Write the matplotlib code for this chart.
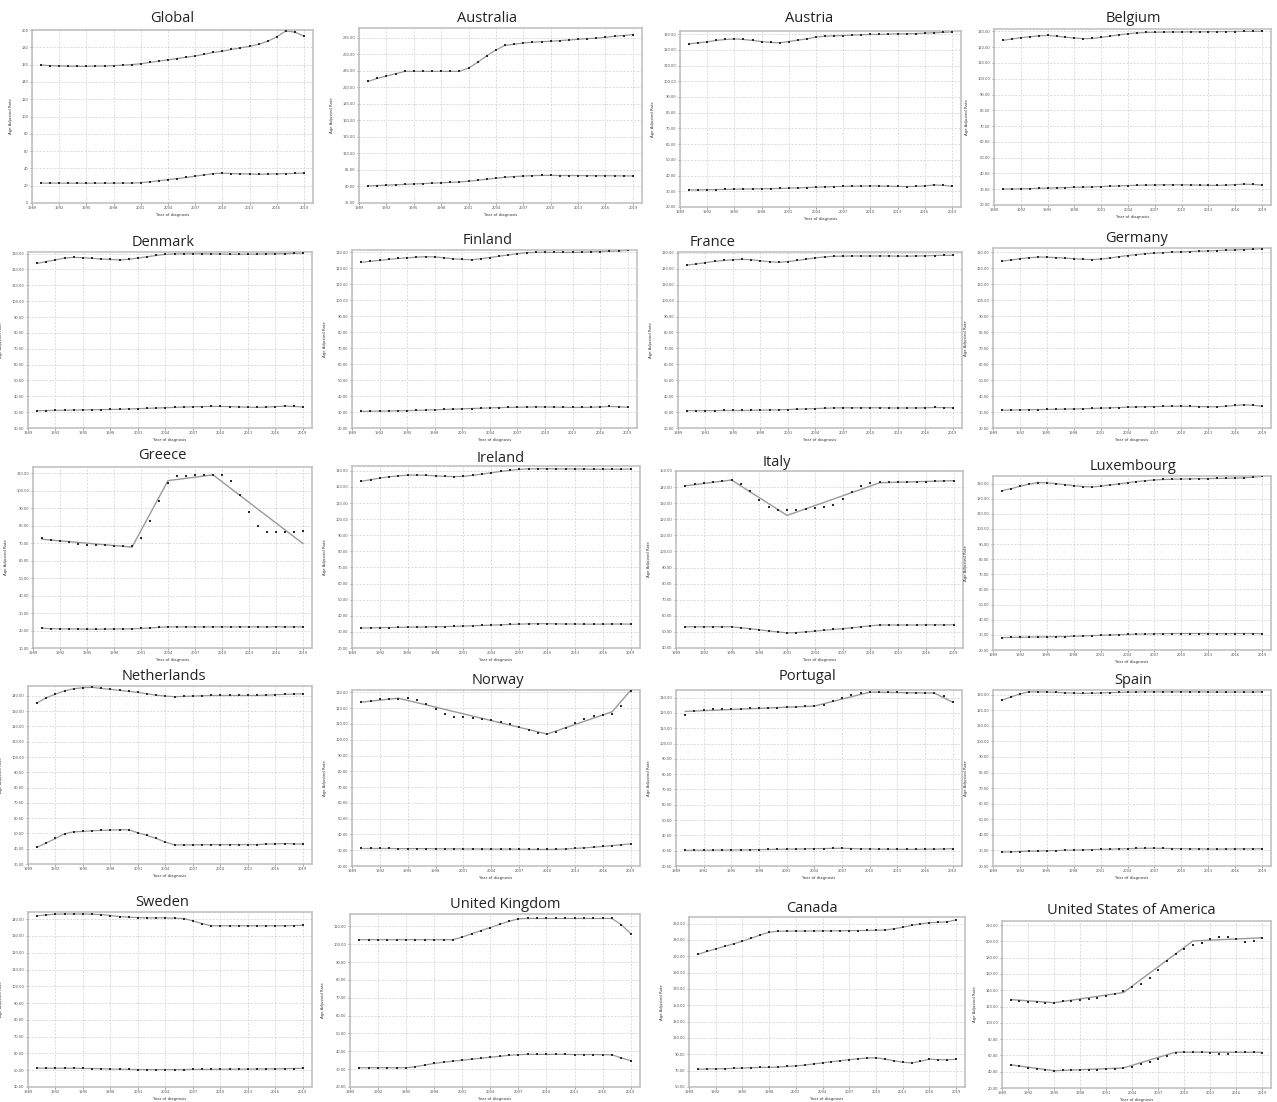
import matplotlib
matplotlib.use("Agg")
import matplotlib.pyplot as plt
from matplotlib.ticker import FormatStrFormatter

# ---------------- data ----------------
years = list(range(1990, 2020))
x_ticks = [1989, 1992, 1995, 1998, 2001, 2004, 2007, 2010, 2013, 2016, 2019]

global_upper = [159.5, 158.8, 158.5, 158.2, 158.0, 158.0, 158.2, 158.4, 158.8, 159.3, 160.0, 161.0, 162.5, 164.0, 165.5,
                167.0, 168.5, 170.0, 172.0, 174.0, 175.5, 177.5, 179.5, 181.0, 183.5, 187.0, 192.0, 199.0, 197.5, 193.0]
global_lower = [23.0, 23.0, 23.0, 22.9, 22.9, 22.9, 22.9, 22.9, 23.0, 23.0, 23.1, 23.5, 24.5, 25.8, 27.0,
                28.2, 29.5, 31.0, 32.5, 34.0, 34.5, 34.0, 33.8, 33.5, 33.2, 33.4, 33.8, 34.0, 34.2, 34.6]

australia_upper = [219.1, 223.7, 227.2, 230.7, 234.3, 234.3, 234.3, 234.3, 234.3, 234.3, 234.3, 239.3, 248.0, 258.1, 266.7,
                   273.8, 275.3, 277.4, 278.4, 279.4, 279.9, 280.9, 281.9, 282.9, 284.0, 284.5, 286.0, 287.5, 288.6, 290.1]
australia_lower = [60.9, 61.5, 62.0, 62.6, 63.2, 63.8, 64.4, 65.0, 65.6, 66.2, 66.8, 68.0, 69.5, 71.0, 72.5,
                   74.0, 75.0, 75.8, 76.5, 76.8, 76.8, 76.6, 76.6, 76.5, 76.4, 76.3, 76.3, 76.2, 76.1, 76.0]

austria_upper = [123.8, 124.5, 125.1, 126.0, 126.6, 127.0, 126.6, 126.0, 125.3, 124.7, 124.5, 125.3, 126.2, 127.0, 128.1,
                 128.7, 128.9, 129.1, 129.4, 129.6, 129.8, 129.8, 130.0, 130.2, 130.2, 130.4, 130.6, 130.9, 131.1, 131.5]
austria_lower = [30.9, 30.9, 31.0, 31.1, 31.2, 31.3, 31.4, 31.5, 31.6, 31.7, 31.8, 32.0, 32.2, 32.4, 32.6,
                 32.8, 33.0, 33.1, 33.2, 33.3, 33.4, 33.3, 33.2, 33.1, 33.0, 33.1, 33.4, 34.0, 33.8, 33.2]

belgium_upper = [124.3, 125.2, 126.0, 126.6, 127.2, 127.4, 127.0, 126.3, 125.8, 125.4, 125.5, 126.2, 127.0, 127.8, 128.5,
                 129.0, 129.3, 129.4, 129.5, 129.6, 129.6, 129.7, 129.7, 129.8, 129.8, 129.9, 129.9, 130.0, 130.0, 130.1]
belgium_lower = [30.0, 30.1, 30.3, 30.4, 30.6, 30.7, 30.9, 31.0, 31.2, 31.3, 31.5, 31.7, 31.9, 32.1, 32.3,
                 32.5, 32.6, 32.7, 32.8, 32.8, 32.8, 32.7, 32.6, 32.5, 32.4, 32.6, 32.9, 33.2, 33.0, 32.6]

denmark_upper = [123.8, 125.0, 126.0, 127.2, 127.6, 127.4, 127.0, 126.6, 126.3, 126.0, 126.4, 127.2, 128.0, 128.8, 129.5,
                 129.8, 129.9, 129.9, 129.9, 129.8, 129.7, 129.6, 129.6, 129.6, 129.7, 129.8, 129.9, 130.0, 130.1, 130.3]
denmark_lower = [30.9, 31.0, 31.1, 31.2, 31.3, 31.4, 31.5, 31.6, 31.7, 31.8, 32.0, 32.2, 32.4, 32.6, 32.8,
                 33.0, 33.2, 33.4, 33.5, 33.6, 33.6, 33.5, 33.3, 33.1, 33.0, 33.2, 33.5, 33.8, 33.6, 33.3]

finland_upper = [123.8, 124.4, 125.0, 125.6, 126.2, 126.6, 127.0, 127.3, 127.2, 126.6, 126.0, 125.6, 125.4, 126.0, 126.8,
                 127.6, 128.4, 129.2, 129.8, 130.0, 130.1, 130.0, 130.0, 130.0, 130.1, 130.3, 130.5, 130.7, 130.9, 131.2]
finland_lower = [30.4, 30.5, 30.6, 30.7, 30.8, 30.9, 31.0, 31.2, 31.4, 31.6, 31.8, 32.0, 32.2, 32.4, 32.6,
                 32.8, 32.9, 33.0, 33.1, 33.2, 33.2, 33.1, 33.0, 32.9, 32.9, 33.0, 33.2, 33.5, 33.3, 33.0]

france_upper = [122.3, 123.0, 123.8, 124.6, 125.2, 125.6, 125.9, 125.6, 125.0, 124.4, 124.0, 124.5, 125.2, 126.0, 126.8,
                127.4, 127.8, 127.9, 128.0, 128.0, 128.0, 128.0, 128.0, 127.9, 127.9, 128.0, 128.1, 128.3, 128.4, 128.4]
france_lower = [30.9, 30.9, 30.9, 30.9, 31.0, 31.0, 31.0, 31.1, 31.2, 31.3, 31.4, 31.6, 31.8, 32.0, 32.2,
                32.4, 32.6, 32.7, 32.7, 32.7, 32.7, 32.7, 32.6, 32.6, 32.6, 32.6, 32.7, 32.9, 32.8, 32.7]

germany_upper = [124.3, 125.0, 125.8, 126.4, 126.8, 126.8, 126.5, 126.2, 125.8, 125.4, 125.3, 125.6, 126.2, 127.0, 127.8,
                 128.4, 128.9, 129.3, 129.6, 129.9, 130.1, 130.3, 130.5, 130.7, 130.9, 131.1, 131.3, 131.5, 131.8, 132.1]
germany_lower = [31.1, 31.2, 31.3, 31.4, 31.5, 31.6, 31.7, 31.8, 31.9, 32.0, 32.2, 32.4, 32.6, 32.8, 33.0,
                 33.2, 33.3, 33.4, 33.5, 33.6, 33.6, 33.5, 33.4, 33.3, 33.3, 33.6, 34.1, 34.5, 34.2, 33.6]

greece_upper = [73.1, 72.1, 71.3, 70.5, 69.8, 69.2, 69.0, 68.8, 68.6, 68.6, 68.6, 73.3, 82.7, 94.2, 104.3,
                108.4, 108.8, 109.2, 109.0, 109.2, 109.2, 105.5, 97.7, 87.9, 80.1, 76.4, 76.2, 76.2, 76.2, 76.8]
greece_upper_fit_x = [1990, 2000, 2004, 2009, 2019]
greece_upper_fit_y = [72.3, 67.8, 105.9, 109.2, 69.8]
greece_lower = [21.3, 21.1, 21.0, 20.9, 20.9, 20.8, 20.8, 20.8, 20.9, 20.9, 21.0, 21.2, 21.5, 21.8, 22.1,
                22.1, 22.1, 22.1, 22.1, 22.1, 22.1, 22.1, 22.1, 22.1, 22.1, 22.1, 22.2, 22.1, 22.1, 22.1]

ireland_upper = [123.5, 124.5, 125.5, 126.3, 126.9, 127.3, 127.4, 127.2, 126.9, 126.6, 126.4, 126.6, 127.2, 128.0, 128.8,
                 129.6, 130.3, 130.9, 131.2, 131.3, 131.3, 131.2, 131.2, 131.1, 131.1, 131.0, 131.0, 131.0, 131.0, 131.1]
ireland_lower = [32.4, 32.5, 32.6, 32.7, 32.8, 32.9, 33.0, 33.1, 33.2, 33.3, 33.4, 33.6, 33.8, 34.0, 34.2,
                 34.4, 34.6, 34.8, 35.0, 35.1, 35.1, 35.0, 34.9, 34.9, 34.8, 34.8, 34.8, 34.9, 34.9, 34.8]

italy_upper = [140.8, 141.9, 142.7, 143.4, 143.8, 144.2, 141.7, 137.5, 132.2, 127.6, 125.5, 126.0, 126.0, 126.4, 127.0,
               127.4, 129.1, 132.9, 137.1, 140.8, 142.5, 142.9, 142.9, 142.9, 142.9, 143.1, 143.3, 143.6, 143.8, 144.0]
italy_upper_fit_x = [1990, 1995, 2001, 2011, 2019]
italy_upper_fit_y = [140.8, 144.4, 122.4, 142.7, 144.0]
italy_lower = [53.2, 53.2, 53.2, 53.2, 53.2, 53.2, 52.6, 52.0, 51.3, 50.6, 50.0, 49.4, 49.6, 50.0, 50.5,
               51.0, 51.5, 52.0, 52.6, 53.2, 53.8, 54.3, 54.3, 54.3, 54.3, 54.3, 54.4, 54.4, 54.4, 54.4]

luxembourg_upper = [125.3, 126.6, 128.2, 129.6, 130.7, 130.5, 130.0, 129.3, 128.6, 128.0, 127.8, 128.2, 129.0, 129.8, 130.6,
                    131.3, 131.9, 132.4, 132.7, 132.9, 133.0, 133.1, 133.2, 133.3, 133.4, 133.5, 133.6, 133.8, 134.2, 134.7]
luxembourg_lower = [28.2, 28.3, 28.4, 28.5, 28.6, 28.7, 28.8, 28.9, 29.1, 29.3, 29.5, 29.7, 29.9, 30.1, 30.3,
                    30.5, 30.6, 30.7, 30.8, 30.9, 30.9, 30.9, 30.9, 30.9, 30.8, 30.8, 30.9, 30.9, 30.9, 30.8]

netherlands_upper = [135.5, 138.8, 141.2, 143.4, 144.7, 145.4, 145.6, 144.9, 144.3, 143.6, 143.0, 142.3, 141.4, 140.5, 139.9,
                     139.5, 139.7, 139.9, 140.1, 140.3, 140.3, 140.3, 140.3, 140.3, 140.3, 140.5, 140.8, 141.0, 141.2, 141.4]
netherlands_lower = [41.0, 43.8, 46.7, 49.8, 51.1, 51.3, 51.8, 52.0, 52.2, 52.4, 52.4, 50.4, 48.7, 46.7, 44.3,
                     42.5, 42.5, 42.5, 42.7, 42.7, 42.7, 42.7, 42.7, 42.7, 42.7, 43.0, 43.2, 43.4, 43.2, 43.0]

norway_upper = [124.0, 124.8, 125.7, 125.9, 126.1, 126.3, 125.3, 122.5, 119.4, 116.6, 114.5, 114.1, 113.7, 112.9, 112.2,
                111.4, 109.9, 108.2, 105.9, 104.5, 103.6, 104.7, 107.2, 110.3, 113.3, 115.0, 115.6, 116.6, 121.3, 130.9]
norway_upper_fit_x = [1990, 1994, 2010, 2017, 2019]
norway_upper_fit_y = [123.8, 126.3, 103.6, 117.7, 131.3]
norway_lower = [31.1, 31.1, 31.1, 31.1, 31.0, 31.0, 31.0, 31.0, 30.9, 30.9, 30.9, 30.8, 30.8, 30.8, 30.7,
                30.7, 30.7, 30.6, 30.6, 30.5, 30.5, 30.6, 30.8, 31.1, 31.5, 31.9, 32.4, 32.9, 33.5, 34.1]

portugal_upper = [118.5, 121.5, 122.0, 122.3, 122.5, 122.7, 122.8, 123.0, 123.2, 123.3, 123.5, 123.7, 124.0, 124.3, 124.5,
                  125.5, 127.5, 129.5, 131.5, 133.0, 133.5, 133.6, 133.5, 133.4, 133.3, 133.2, 133.1, 132.8, 131.0, 127.0]
portugal_upper_fit_x = [1990, 2004, 2010, 2017, 2019]
portugal_upper_fit_y = [121.0, 124.5, 133.6, 133.0, 127.0]
portugal_lower = [30.2, 30.3, 30.3, 30.4, 30.4, 30.5, 30.5, 30.6, 30.7, 30.8, 30.9, 31.0, 31.1, 31.2, 31.3,
                  31.4, 31.5, 31.6, 31.4, 31.2, 31.1, 31.0, 31.0, 30.9, 30.9, 30.9, 31.0, 31.0, 31.1, 31.3]

spain_upper = [126.5, 128.5, 130.5, 131.8, 131.8, 131.7, 131.5, 131.2, 131.0, 130.8, 130.9, 131.1, 131.3, 131.5, 131.6,
               131.7, 131.8, 131.8, 131.8, 131.8, 131.8, 131.8, 131.8, 131.7, 131.7, 131.7, 131.7, 131.7, 131.7, 131.8]
spain_lower = [29.0, 29.1, 29.3, 29.5, 29.6, 29.8, 29.9, 30.1, 30.2, 30.4, 30.5, 30.7, 30.8, 31.0, 31.1,
               31.3, 31.4, 31.4, 31.3, 31.2, 31.1, 31.0, 31.0, 30.9, 30.9, 30.9, 31.0, 31.0, 31.0, 31.1]

sweden_upper = [142.0, 142.6, 143.0, 143.1, 143.1, 143.1, 143.0, 142.8, 142.2, 141.6, 141.2, 141.0, 140.8, 140.8, 140.8,
                140.6, 140.4, 139.0, 137.4, 136.1, 136.1, 136.1, 136.1, 136.1, 136.1, 136.1, 136.1, 136.1, 136.2, 136.4]
sweden_lower = [51.2, 51.2, 51.2, 51.2, 51.2, 51.1, 51.0, 50.9, 50.7, 50.6, 50.5, 50.4, 50.4, 50.4, 50.4,
                50.4, 50.4, 50.5, 50.5, 50.5, 50.6, 50.6, 50.6, 50.7, 50.7, 50.8, 50.8, 50.9, 51.0, 51.2]

uk_upper = [102.6, 102.6, 102.6, 102.6, 102.6, 102.6, 102.6, 102.6, 102.6, 102.6, 102.6, 104.1, 105.9, 107.7, 109.4,
            111.2, 112.9, 114.3, 114.5, 114.5, 114.5, 114.5, 114.5, 114.5, 114.5, 114.5, 114.5, 114.5, 111.0, 106.0]
uk_lower = [30.8, 30.8, 30.8, 30.8, 30.8, 30.8, 31.4, 32.3, 33.2, 33.9, 34.5, 35.0, 35.6, 36.1, 36.7,
            37.2, 37.8, 38.1, 38.3, 38.3, 38.3, 38.3, 38.3, 38.2, 38.2, 38.2, 38.1, 38.1, 36.3, 34.8]

canada_upper = [212.3, 215.8, 218.9, 222.1, 225.2, 228.4, 232.0, 236.0, 239.4, 240.6, 240.7, 240.8, 240.9, 241.0, 241.0,
                241.1, 241.2, 241.3, 241.4, 241.5, 241.8, 242.1, 243.5, 245.5, 247.8, 249.6, 251.0, 251.5, 252.0, 254.5]
canada_lower = [71.6, 72.0, 72.4, 72.4, 72.8, 73.2, 73.6, 74.0, 74.0, 74.4, 75.1, 75.9, 76.7, 78.3, 79.5,
                81.0, 82.2, 83.4, 84.6, 85.4, 85.8, 84.2, 82.2, 80.3, 79.5, 81.4, 84.2, 83.4, 83.4, 83.8]

usa_upper = [128.2, 127.0, 125.8, 125.1, 124.7, 124.7, 126.3, 127.0, 127.8, 129.4, 130.9, 132.5, 135.2, 139.1, 143.4,
             148.1, 154.8, 164.5, 175.5, 184.8, 190.7, 195.0, 198.5, 202.4, 204.8, 205.9, 202.8, 199.7, 200.9, 204.4]
usa_upper_fit_x = [1990, 1995, 2003, 2011, 2019]
usa_upper_fit_y = [128.6, 124.7, 137.2, 200.5, 204.4]
usa_lower = [48.1, 46.6, 44.6, 43.0, 41.9, 41.1, 41.5, 41.9, 42.3, 42.3, 42.7, 43.0, 43.8, 44.6, 46.2,
             48.9, 52.0, 55.9, 59.5, 63.0, 64.5, 64.1, 63.8, 63.0, 61.8, 61.4, 63.8, 64.1, 63.8, 63.4]
usa_lower_fit_x = [1990, 1995, 2003, 2009, 2019]
usa_lower_fit_y = [48.5, 41.2, 44.6, 64.0, 63.8]

# name, upper obs, upper fit, lower obs, lower fit, y axis (min, step, n_intervals, top), tick format
panels = [
    ("Global", global_upper, None, global_lower, None, (0, 20, 10, 200), "%d"),
    ("Australia", australia_upper, None, australia_lower, None, (35, 25, 10, 300), "%.2f"),
    ("Austria", austria_upper, None, austria_lower, None, (20, 10, 11, 132), "%.2f"),
    ("Belgium", belgium_upper, None, belgium_lower, None, (20, 10, 11, 131.5), "%.2f"),
    ("Denmark", denmark_upper, None, denmark_lower, None, (20, 10, 11, 131), "%.2f"),
    ("Finland", finland_upper, None, finland_lower, None, (20, 10, 11, 131.5), "%.2f"),
    ("France", france_upper, None, france_lower, None, (20, 10, 11, 130.5), "%.2f"),
    ("Germany", germany_upper, None, germany_lower, None, (20, 10, 11, 132.5), "%.2f"),
    ("Greece", greece_upper, (greece_upper_fit_x, greece_upper_fit_y), greece_lower, None, (10, 10, 10, 113.7), "%.2f"),
    ("Ireland", ireland_upper, None, ireland_lower, None, (20, 10, 11, 133), "%.2f"),
    ("Italy", italy_upper, (italy_upper_fit_x, italy_upper_fit_y), italy_lower, None, (40, 10, 11, 150), "%.2f"),
    ("Luxembourg", luxembourg_upper, None, luxembourg_lower, None, (20, 10, 11, 135), "%.2f"),
    ("Netherlands", netherlands_upper, None, netherlands_lower, None, (30, 10, 11, 146.5), "%.2f"),
    ("Norway", norway_upper, (norway_upper_fit_x, norway_upper_fit_y), norway_lower, None, (20, 10, 11, 131.5), "%.2f"),
    ("Portugal", portugal_upper, (portugal_upper_fit_x, portugal_upper_fit_y), portugal_lower, None, (20, 10, 11, 135), "%.2f"),
    ("Spain", spain_upper, None, spain_lower, None, (20, 10, 11, 133), "%.2f"),
    ("Sweden", sweden_upper, None, sweden_lower, None, (40, 10, 10, 144.3), "%.2f"),
    ("United Kingdom", uk_upper, None, uk_lower, None, (20, 10, 9, 117), "%.2f"),
    ("Canada", canada_upper, None, canada_lower, None, (50, 20, 10, 258), "%.2f"),
    ("United States of America", usa_upper, (usa_upper_fit_x, usa_upper_fit_y),
     usa_lower, (usa_lower_fit_x, usa_lower_fit_y), (20, 20, 10, 225), "%.2f"),
]

# ---------------- layout (pixels: left, top, right, bottom; title centre x, y) ----------------
boxes = [
    (32, 30, 313, 203, 172, 18), (359, 28, 642, 203, 487, 18), (680, 31, 961, 207, 809, 19), (994, 29, 1271, 205, 1133, 19),
    (28, 252, 312, 428, 163, 243), (352, 250, 637, 428, 488, 241), (678, 252, 962, 428, 713, 243), (993, 248, 1271, 428, 1137, 239),
    (33, 467, 312, 648, 162, 456), (352, 466, 640, 648, 501, 458), (676, 471, 963, 648, 777, 462), (993, 476, 1271, 650, 1133, 466),
    (28, 686, 312, 864, 164, 677), (352, 690, 640, 866, 498, 681), (676, 690, 962, 866, 808, 677), (993, 690, 1271, 866, 1133, 681),
    (28, 912, 312, 1087, 162, 902), (350, 914, 640, 1087, 505, 904), (689, 917, 965, 1087, 812, 908), (1002, 921, 1271, 1088, 1131, 910),
]

W, H = 1277, 1102
fig = plt.figure(figsize=(W / 100, H / 100), dpi=100)
fig.patch.set_facecolor("white")

pt_color = "#2a2a2a"
ln_color = "#9a9a9a"

for (name, up, up_fit, lo, lo_fit, yax, fmt), (l, t, r, b, tx, ty) in zip(panels, boxes):
    ax = fig.add_axes([l / W, 1 - b / H, (r - l) / W, (b - t) / H])
    ymin, step, n, top = yax
    for obs, fit in ((up, up_fit), (lo, lo_fit)):
        if fit is None:
            ax.plot(years, obs, color=ln_color, lw=0.9, zorder=2)
        else:
            ax.plot(fit[0], fit[1], color=ln_color, lw=1.0, zorder=2)
        ax.plot(years, obs, ls="none", marker="s", ms=1.9, color=pt_color, mew=0, zorder=3)
    ax.set_xlim(1989.2, 2020.0)
    ax.set_ylim(ymin, top)
    ax.set_xticks(x_ticks)
    ax.set_yticks([ymin + i * step for i in range(n + 1)])
    ax.yaxis.set_major_formatter(FormatStrFormatter(fmt))
    ax.grid(True, color="#cfcfcf", lw=0.5, ls=(0, (3, 2)))
    ax.set_axisbelow(True)
    for s in ax.spines.values():
        s.set_color("#bdbdbd")
        s.set_linewidth(1.1)
    ax.tick_params(labelsize=2.6, colors="#555555", length=1.5, width=0.4, pad=1)
    ax.set_ylabel("Age Adjusted Rate", fontsize=2.8, color="#333333", labelpad=6)
    ax.set_xlabel("Year of diagnosis", fontsize=2.8, color="#333333", labelpad=2)
    fig.text(tx / W, 1 - ty / H, name, ha="center", va="center", fontsize=10.5,
             family=["Open Sans", "DejaVu Sans"], color="#222222")

fig.savefig("out.png", dpi=100, facecolor="white")
